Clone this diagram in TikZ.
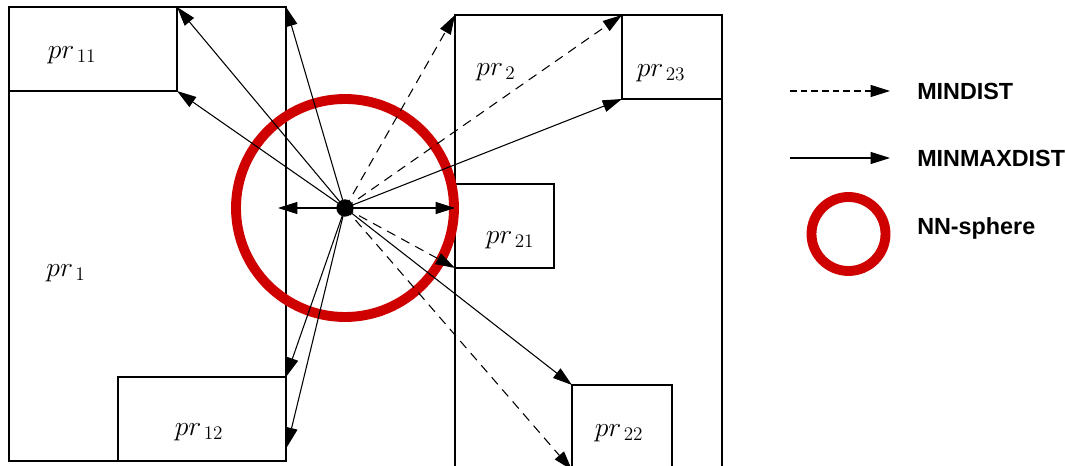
\documentclass[tikz,border=0pt]{standalone}
\usepackage{fontspec}
\newfontfamily\legendfont{Liberation Sans}
\usetikzlibrary{arrows.meta}
\definecolor{nnred}{RGB}{206,0,0}
\tikzset{
  region/.style={line width=1.1pt, draw=black},
  lbl/.style={inner sep=0pt, font=\fontsize{21}{24}\selectfont},
  mmd/.style={line width=0.8pt, -{Triangle[length=14.5pt,width=9pt]}},
  mind/.style={mmd, dash pattern=on 7pt off 5pt},
  legtext/.style={anchor=west, inner sep=0pt, font=\legendfont\bfseries\fontsize{17.5}{20}\selectfont},
  sphere/.style={draw=nnred, line width=7.4pt},
}
\begin{document}
\begin{tikzpicture}[x=0.75pt, y=-0.75pt]
\useasboundingbox (0,0) rectangle (1065,466);
\fill[white] (0,0) rectangle (1065,466);
\begin{scope}
\clip (0,0) rectangle (1065,466);
% region pr1 and its children
\coordinate (p1tr) at (286,7);
\coordinate (p11br) at (177,91);
\coordinate (p11tr) at (177,7);
\coordinate (p12tr) at (286,377);
\coordinate (p1edge) at (287,447);
\draw[region] (9,7) rectangle (286,461);
\draw[region] (9,7) rectangle (177,91);
\draw[region] (118,377) rectangle (286,461);
% region pr2 and its children (continuing below)
\coordinate (p2tl) at (455,15);
\coordinate (p23tl) at (622,15);
\coordinate (p23bl) at (622,99);
\coordinate (p21bl) at (455,268);
\coordinate (p2edge) at (455,208);
\coordinate (p22tl) at (572,385);
\coordinate (p22bl) at (572,470);
\coordinate (p1in) at (278,208);
\draw[region] (455,490) -- (455,15) -- (722,15) -- (722,490);
\draw[region] (622,15) rectangle (722,99);
\draw[region] (455,184) rectangle (554,268);
\draw[region] (572,490) -- (572,385) -- (672,385) -- (672,490);
\end{scope}
% labels
\node[lbl] (l11) at (72,55) {$pr_{\,11}$};
\node[lbl] (l1) at (66,273) {$pr_{\,1}$};
\node[lbl] (l12) at (199,432) {$pr_{\,12}$};
\node[lbl] (l2) at (496,72) {$pr_{\,2}$};
\node[lbl] (l23) at (661,73) {$pr_{\,23}$};
\node[lbl] (l21) at (510,240) {$pr_{\,21}$};
\node[lbl] (l22) at (619,433) {$pr_{\,22}$};
% query point
\node[circle, fill=black, inner sep=0pt, minimum size=13pt] (q) at (345,208) {};
% NN-sphere
\draw[sphere] (q.center) circle[radius=109];
% distance arrows
\draw[mmd] (q.center) -- (p11br);
\draw[mmd] (q.center) -- (p11tr);
\draw[mmd] (q.center) -- (p1tr);
\draw[mmd] (q.center) -- (p1in);
\draw[mmd] (q.center) -- (p2edge);
\draw[mmd] (q.center) -- (p23bl);
\draw[mmd] (q.center) -- (p22tl);
\draw[mmd] (q.center) -- (p12tr);
\draw[mmd] (q.center) -- (p1edge);
\draw[mind] (q.center) -- (p2tl);
\draw[mind] (q.center) -- (p23tl);
\draw[mind] (q.center) -- (p21bl);
\begin{scope}
\clip (0,0) rectangle (1065,466);
\draw[mind] (q.center) -- (p22bl);
\end{scope}
% legend
\coordinate (a1s) at (790,91);
\coordinate (a1e) at (890,91);
\coordinate (a2s) at (790,158);
\coordinate (a2e) at (890,158);
\draw[mind, dash pattern=on 5pt off 3pt] (a1s) -- (a1e);
\draw[mmd] (a2s) -- (a2e);
\node[legtext] (t1) at (917,91) {MINDIST};
\node[legtext] (t2) at (917,158) {MINMAXDIST};
\node[circle, sphere, minimum size=55.5pt, inner sep=0pt] (c3) at (848.5,234) {};
\node[legtext] (t3) at (917,228) {NN-sphere};
\end{tikzpicture}
\end{document}
